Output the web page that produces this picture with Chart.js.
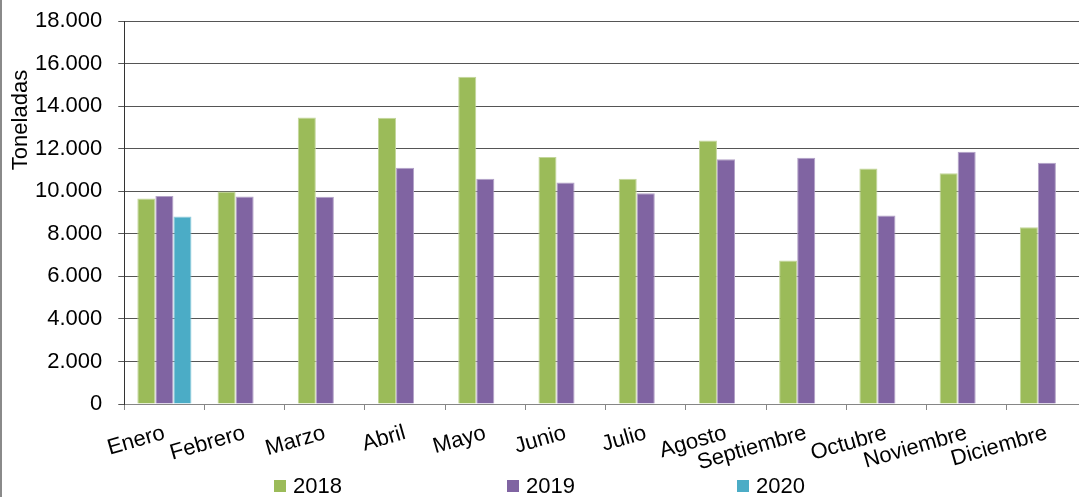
<!DOCTYPE html>
<html>
<head>
<meta charset="utf-8">
<script src="https://cdn.jsdelivr.net/npm/chart.js@4.4.1/dist/chart.umd.min.js"></script>
<style>
  html, body { margin:0; padding:0; background:#fff; overflow:hidden; }
  #wrap { border-left:2px solid #8a8a8a; width:1095px; height:497px; }
  canvas { display:block; }
</style>
</head>
<body>
<div id="wrap"><canvas id="chart" width="1095" height="497"></canvas></div>
<script>
const meses = ['Enero','Febrero','Marzo','Abril','Mayo','Junio','Julio','Agosto','Septiembre','Octubre','Noviembre','Diciembre'];
const t2018 = [9660, 9990, 13460, 13450, 15380, 11610, 10590, 12380, 6740, 11070, 10840, 8310];
const t2019 = [9770, 9750, 9740, 11100, 10590, 10410, 9910, 11500, 11570, 8860, 11860, 11340];
const t2020 = [8810, null, null, null, null, null, null, null, null, null, null, null];
const series = ['2018', '2019', '2020'];
const colores = ['#9bbb59', '#8064a2', '#4bacc6'];
const bordes = ['#c3d69b', '#b3a2c7', '#93cddd'];

const FONT = '"Liberation Sans", Arial, sans-serif';

function fmt(v){
  return String(v).replace(/\B(?=(\d{3})+(?!\d))/g, '.');
}

// leyenda abajo y titulo del eje Y, colocados como en el original
const extras = {
  id: 'extras',
  afterDraw(chart){
    const ctx = chart.ctx;
    ctx.save();
    ctx.fillStyle = '#000';
    ctx.font = '22px ' + FONT;
    ctx.translate(19, 120);
    ctx.rotate(-Math.PI/2);
    ctx.textAlign = 'center';
    ctx.textBaseline = 'middle';
    ctx.fillText('Toneladas', 0, 0);
    ctx.restore();

    const xs = [272, 505, 735];
    ctx.save();
    ctx.font = '22px ' + FONT;
    ctx.textBaseline = 'middle';
    ctx.textAlign = 'left';
    series.forEach((s, i) => {
      ctx.fillStyle = colores[i];
      ctx.fillRect(xs[i], 480, 12, 12);
      ctx.fillStyle = '#000';
      ctx.fillText(s, xs[i] + 19, 487);
    });
    ctx.restore();
  }
};

new Chart(document.getElementById('chart'), {
  type: 'bar',
  data: {
    labels: meses,
    datasets: [t2018, t2019, t2020].map((d, i) => ({
      label: series[i],
      data: d,
      backgroundColor: colores[i],
      borderColor: bordes[i],
      borderWidth: 1,
      categoryPercentage: 0.675,
      barPercentage: 1.0
    }))
  },
  options: {
    responsive: false,
    animation: false,
    devicePixelRatio: 1,
    layout: { padding: { left: 17, right: 10, top: 0, bottom: 0 } },
    plugins: { legend: { display: false }, tooltip: { enabled: false } },
    scales: {
      x: {
        grid: { offset: true, drawOnChartArea: false, drawTicks: true, tickLength: 6, color: '#868686' },
        border: { color: '#868686', width: 1 },
        ticks: { color: '#000', font: { family: FONT, size: 22 }, minRotation: 16, maxRotation: 16, padding: 10, autoSkip: false },
        afterFit(scale){ scale.height = 93; }
      },
      y: {
        min: 0, max: 18000,
        grid: { color: '#555', tickLength: 6, tickColor: '#555' },
        border: { color: '#333', width: 1 },
        ticks: { stepSize: 2000, color: '#000', font: { family: FONT, size: 22 }, padding: 16, callback: v => fmt(v) },
        afterFit(scale){ scale.paddingTop = 21; }
      }
    }
  },
  plugins: [extras]
});
</script>
</body>
</html>
